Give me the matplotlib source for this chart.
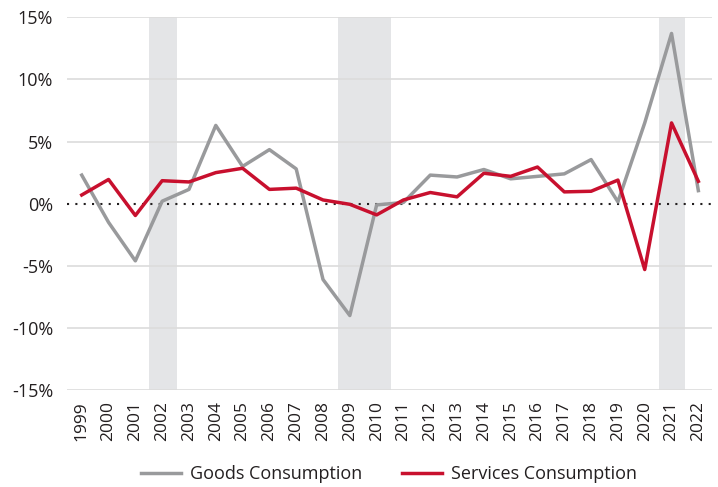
import numpy as np
import matplotlib.pyplot as plt

plt.rcParams['font.family'] = ['Open Sans', 'DejaVu Sans']

years = list(range(1999, 2023))
goods = [2.3, -1.5, -4.6, 0.2, 1.15, 6.3, 3.0, 4.35, 2.8, -6.1, -9.0, -0.1,
         0.1, 2.3, 2.15, 2.75, 2.0, 2.2, 2.4, 3.55, 0.15, 6.5, 13.7, 1.05]
services = [0.7, 1.95, -0.95, 1.85, 1.75, 2.5, 2.85, 1.15, 1.25, 0.3, -0.05, -0.9,
            0.3, 0.9, 0.55, 2.45, 2.2, 2.95, 0.95, 1.0, 1.9, -5.3, 6.5, 1.8]
# recession shading (start, end) in years
recessions = [(2001.52, 2002.57), (2008.55, 2010.55), (2020.52, 2021.5)]
yticks = [-15, -10, -5, 0, 5, 10, 15]

fig = plt.figure(figsize=(7.18, 4.87), dpi=100)
ax = fig.add_axes([0.0933, 0.199, 0.898, 0.7655])

for start, end in recessions:
    ax.axvspan(start, end, color='#e4e5e7', lw=0, zorder=0)

for y in yticks:
    if y != 0:
        ax.axhline(y, color='#dcdcdc', lw=1.2, zorder=1)
ax.axhline(0, color='#231f20', lw=1.5, linestyle=(0, (1, 3)), zorder=2)

ax.plot(years, goods, color='#999a9c', lw=2.5, label='Goods Consumption', zorder=3)
ax.plot(years, services, color='#c8102e', lw=2.5, label='Services Consumption', zorder=4)

ax.set_xlim(1998.45, 2022.5)
ax.set_ylim(-15, 15)
ax.set_yticks(yticks)
ax.set_yticklabels([f'{v}%' for v in yticks], fontsize=13, color='#231f20')
ax.set_xticks(years)
ax.set_xticklabels([str(y) for y in years], rotation=90, fontsize=12.5, color='#231f20')
ax.tick_params(length=0, pad=8)
ax.tick_params(axis='y', pad=10)
for s in ax.spines.values():
    s.set_visible(False)

handles, labels = ax.get_legend_handles_labels()
fig.legend(handles, labels, loc='center', bbox_to_anchor=(0.542, 0.027), ncol=2,
           frameon=False, fontsize=13, handlelength=2.2, columnspacing=2.2,
           handletextpad=0.5, labelcolor='#231f20')

fig.savefig('out.png', dpi=100)
